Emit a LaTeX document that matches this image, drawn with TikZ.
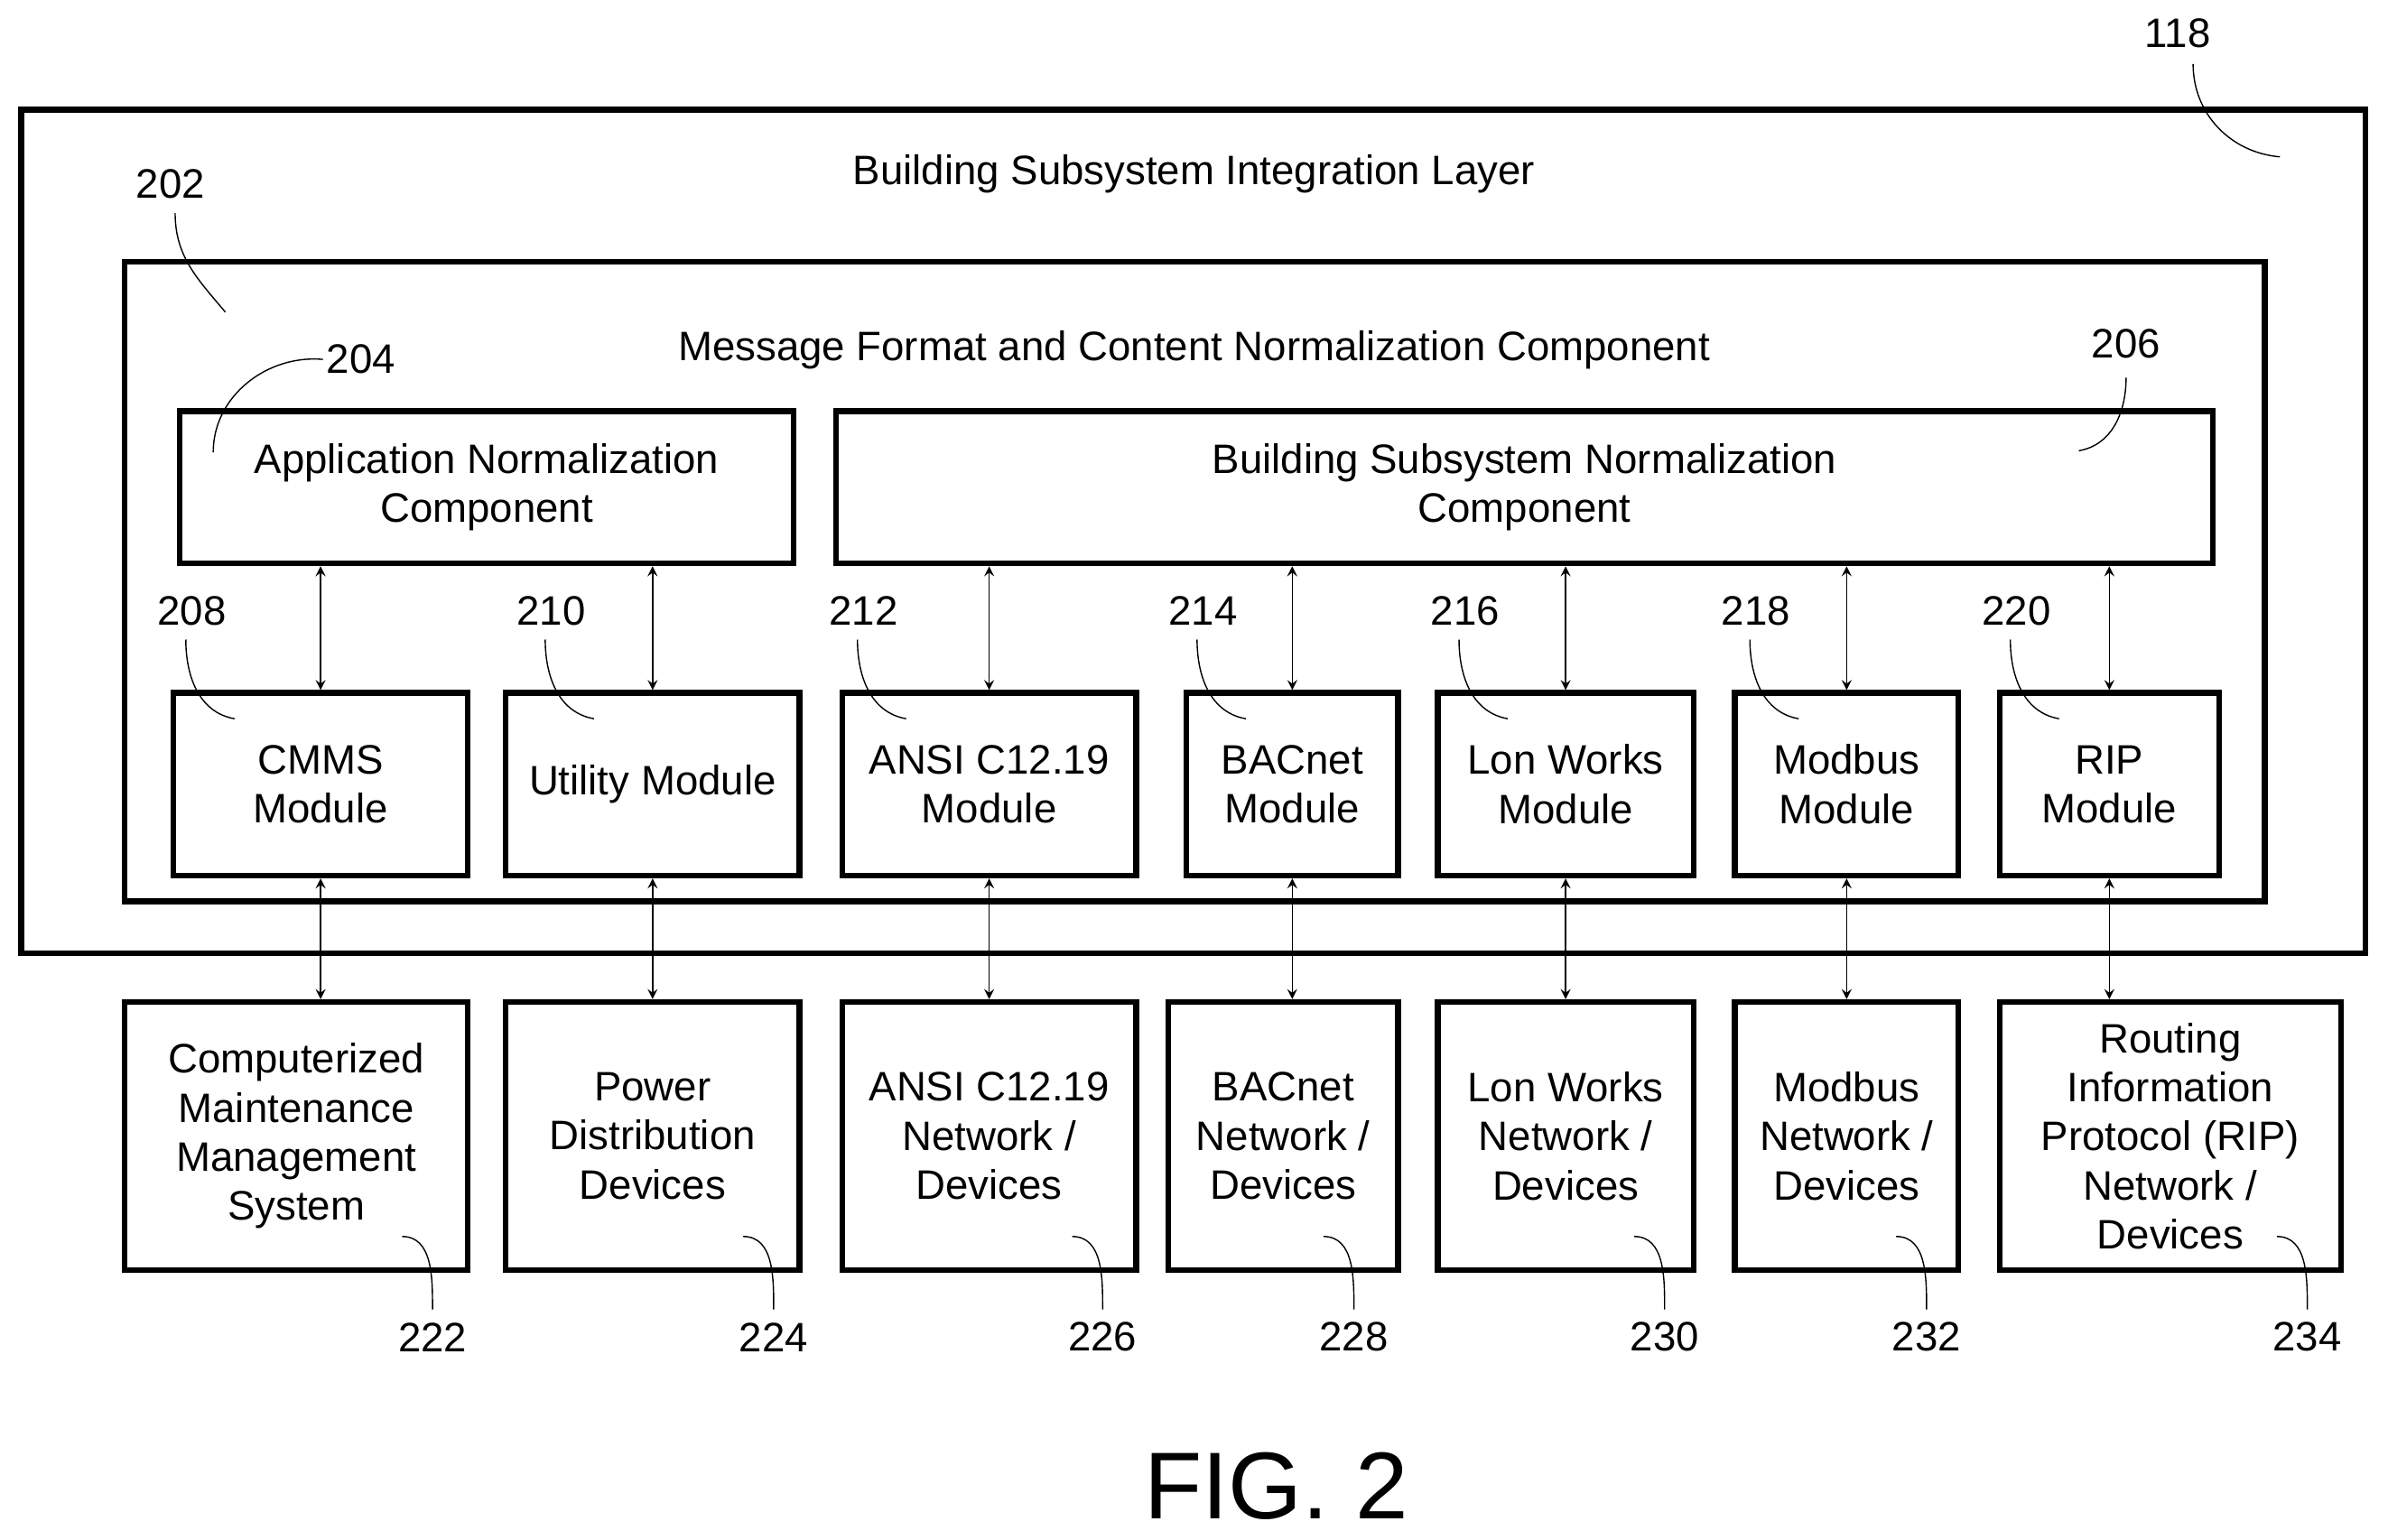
\documentclass[tikz,border=0pt]{standalone}
\usepackage{fontspec}
\setmainfont{Liberation Sans}
\usetikzlibrary{arrows}
\def\u{0.0169cm}
\tikzstyle{frame} = [rectangle, draw, line width=1.8pt, inner sep=0pt]
\tikzstyle{box} = [rectangle, draw, line width=1.8pt, align=center, inner sep=2pt, minimum height={120*\u}]
\tikzstyle{dev} = [rectangle, draw, line width=1.8pt, align=center, inner sep=2pt, minimum height={176*\u}]
\tikzstyle{arrow} = [thin,<->,>=stealth]
\tikzstyle{lead} = [thin]
\tikzstyle{num} = [inner sep=1pt]

\begin{document}
\begin{tikzpicture}[x=\u, y=-\u, font=\fontsize{13}{15.5}\selectfont]
\useasboundingbox (0,0) rectangle (1568,1011);

% Frames
\node (bsil) [frame, minimum width={1539*\u}, minimum height={554*\u}] at (783.5,349) {};
\node (mfcn) [frame, minimum width={1405*\u}, minimum height={420*\u}] at (784.5,382) {};
\node at (784,114) {Building Subsystem Integration Layer};
\node at (784,230) {Message Format and Content Normalization Component};

% Normalization components
\node (anc) [box, minimum width={403*\u}, minimum height={100*\u}] at (319.5,320) {Application Normalization\\Component};
\node (bsnc) [box, minimum width={904*\u}, minimum height={100*\u}] at (1001,320) {Building Subsystem Normalization\\Component};

% Modules
\node (cmms) [box, minimum width={193*\u}] at (210.5,515) {CMMS\\Module};
\node (util) [box, minimum width={193*\u}] at (428.5,515) {Utility Module};
\node (ansi) [box, minimum width={193*\u}] at (649.5,515) {ANSI C12.19\\Module};
\node (bacnet) [box, minimum width={139*\u}] at (848.5,515) {BACnet\\Module};
\node (lon) [box, minimum width={168*\u}] at (1028,515) {Lon Works\\Module};
\node (modbus) [box, minimum width={147*\u}] at (1212.5,515) {Modbus\\Module};
\node (rip) [box, minimum width={144*\u}] at (1385,515) {RIP\\Module};

% Networks / devices
\node (cmmsdev) [dev, minimum width={225*\u}] at (194.5,746) {Computerized\\Maintenance\\Management\\System};
\node (utildev) [dev, minimum width={193*\u}] at (428.5,746) {Power\\Distribution\\Devices};
\node (ansidev) [dev, minimum width={193*\u}] at (649.5,746) {ANSI C12.19\\Network /\\Devices};
\node (bacnetdev) [dev, minimum width={151*\u}] at (842.5,746) {BACnet\\Network /\\Devices};
\node (londev) [dev, minimum width={168*\u}] at (1028,746) {Lon Works\\Network /\\Devices};
\node (modbusdev) [dev, minimum width={147*\u}] at (1212.5,746) {Modbus\\Network /\\Devices};
\node (ripdev) [dev, minimum width={224*\u}] at (1425,746) {Routing\\Information\\Protocol (RIP)\\Network /\\Devices};

% Arrows
\foreach \m in {cmms,util}
  \draw [arrow] (\m.north) -- (\m.north |- anc.south);
\foreach \m in {ansi,bacnet,lon,modbus,rip}
  \draw [arrow] (\m.north) -- (\m.north |- bsnc.south);
\foreach \m in {cmms,util,ansi,bacnet,lon,modbus,rip}
  \draw [arrow] (\m.south) -- (\m.south |- \m dev.north);

% Reference numbers
\node (n118) [num] at (1430,22) {118};
\draw [lead] (1440,42) to[out=-90,in=175] (1497,103);
\node (n202) [num] at (112,121) {202};
\draw [lead] (115,140) to[out=-90,in=130] (148,205);
\node (n204) [num] at (237,236) {204};
\draw [lead] (n204.west) to[out=175,in=90] (140,297);
\node (n206) [num] at (1396,226) {206};
\draw [lead] (1396,248) to[out=-90,in=10] (1365,296);
\foreach \n/\x in {208/126,210/362,212/567,214/790,216/962,218/1153,220/1324}{
  \node (n\n) [num] at (\x,401) {\n};
  \draw [lead] (\x-4,420) to[out=-90,in=170] (\x+28,472);
}
\foreach \n/\x in {222/284,224/508,226/724,228/889,230/1093,232/1265,234/1515}{
  \node (n\n) [num] at (\x,878) {\n};
  \draw [lead] (\x-20,812) to[out=0,in=90] (\x,860);
}

\node (fig) at (838,976) {\fontsize{30}{34}\selectfont FIG. 2};
\end{tikzpicture}
\end{document}
